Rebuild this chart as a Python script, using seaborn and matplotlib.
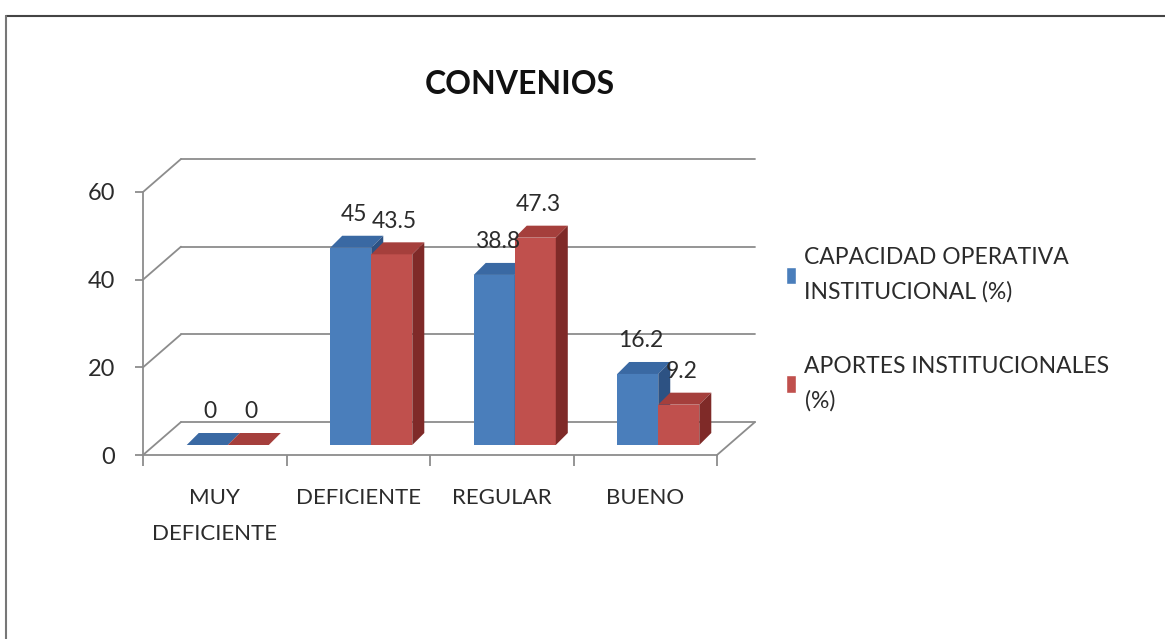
import numpy as np
import pandas as pd
import matplotlib
matplotlib.use('Agg')
import matplotlib.pyplot as plt
import seaborn as sns
from matplotlib.patches import Polygon, Patch
from matplotlib.lines import Line2D
from matplotlib.transforms import IdentityTransform, ScaledTranslation

categorias = ['MUY\nDEFICIENTE', 'DEFICIENTE', 'REGULAR', 'BUENO']
series = ['CAPACIDAD OPERATIVA\nINSTITUCIONAL (%)', 'APORTES INSTITUCIONALES\n(%)']
capacidad = [0, 45, 38.8, 16.2]
aportes = [0, 43.5, 47.3, 9.2]
etiquetas = ['0', '45', '38.8', '16.2', '0', '43.5', '47.3', '9.2']
y_ticks = [0, 20, 40, 60]

frente = ['#4A7EBB', '#C0504D']
arriba = ['#3A69A3', '#A53F3C']
lado = ['#2D5283', '#7F2A28']

df = pd.DataFrame({
    'cat': categorias * 2,
    'serie': [series[0]] * 4 + [series[1]] * 4,
    'valor': capacidad + aportes,
})

sns.set_style('white')
plt.rcParams['font.family'] = ['Lato', 'DejaVu Sans']
texto = '#2b2b2b'

fig = plt.figure(figsize=(11.65, 6.39), dpi=100)
W, H = 1165, 639
ax = fig.add_axes([143 / W, 184 / H, 574 / W, 263 / H])

sns.barplot(data=df, x='cat', y='valor', hue='serie', palette=frente,
            width=0.572, saturation=1, legend=False, ax=ax)
ax.set_xlim(-0.5, 3.5)
ax.set_ylim(0, 60)
ax.set_xlabel('')
ax.set_ylabel('')
ax.set_yticks(y_ticks)

# desplazamientos en pixeles (pantalla, y hacia arriba)
fondo = np.array([38.0, 33.0])
prof = np.array([12.0, 12.0])
despl = np.array([13.0, 10.0])

gris = '#8c8c8c'
for s in ['top', 'right']:
    ax.spines[s].set_visible(False)
for s in ['left', 'bottom']:
    ax.spines[s].set_color(gris)
    ax.spines[s].set_linewidth(1.3)

ax.tick_params(axis='y', direction='out', length=6, color=gris, width=1.3,
               labelsize=17, labelcolor=texto, pad=14, left=True)
ax.set_xticks(np.arange(-0.5, 4, 1), minor=True)
ax.tick_params(axis='x', which='minor', direction='out', length=8, color=gris, width=1.3, bottom=True)
ax.tick_params(axis='x', which='major', length=0, labelsize=16, labelcolor=texto, pad=24)
for t in ax.get_xticklabels():
    t.set_linespacing(1.95)
    t.set_verticalalignment('top')

# paredes del fondo
tr_fondo = ax.transData + ScaledTranslation(fondo[0] / 100, fondo[1] / 100, fig.dpi_scale_trans)
for yv in y_ticks:
    ax.plot([-0.5, 3.5], [yv, yv], color=gris, lw=1.3, transform=tr_fondo, clip_on=False, zorder=1)
    p0 = ax.transData.transform((-0.5, yv))
    ax.add_line(Line2D([p0[0], p0[0] + fondo[0]], [p0[1], p0[1] + fondo[1]], color=gris, lw=1.3,
                       transform=IdentityTransform(), clip_on=False, zorder=1))
p1 = ax.transData.transform((3.5, 0))
ax.add_line(Line2D([p1[0], p1[0] + fondo[0]], [p1[1], p1[1] + fondo[1]], color=gris, lw=1.3,
                   transform=IdentityTransform(), clip_on=False, zorder=1))

# barras 3D a partir de las barras de seaborn
barras = list(ax.patches)
tr_barra = ax.transData + ScaledTranslation(despl[0] / 100, despl[1] / 100, fig.dpi_scale_trans)
for i, p in enumerate(barras):
    k = i // 4
    c = i % 4
    z = 3 + c * 0.5 + k * 0.2
    x0, y0 = p.get_x(), p.get_y()
    x1, y1 = x0 + p.get_width(), y0 + p.get_height()
    a = ax.transData.transform((x0, y0)) + despl
    b = ax.transData.transform((x1, y1)) + despl
    p.set_transform(tr_barra)
    p.set_zorder(z)
    p.set_linewidth(0)
    p.set_clip_on(False)
    top = [(a[0], b[1]), (b[0], b[1]), (b[0] + prof[0], b[1] + prof[1]), (a[0] + prof[0], b[1] + prof[1])]
    side = [(b[0], a[1]), (b[0], b[1]), (b[0] + prof[0], b[1] + prof[1]), (b[0] + prof[0], a[1] + prof[1])]
    ax.add_patch(Polygon(top, closed=True, facecolor=arriba[k], edgecolor='none',
                         transform=IdentityTransform(), clip_on=False, zorder=z + 0.05))
    ax.add_patch(Polygon(side, closed=True, facecolor=lado[k], edgecolor='none',
                         transform=IdentityTransform(), clip_on=False, zorder=z + 0.05))
    ax.annotate(etiquetas[i], ((a[0] + b[0]) / 2 + 3, b[1] + prof[1]),
                xycoords=IdentityTransform(), xytext=(0, 21), textcoords='offset pixels',
                ha='center', va='center', fontsize=16.5, color=texto, zorder=10)

fig.text(520 / W, 1 - 84 / H, 'CONVENIOS', ha='center', va='center', fontsize=23,
         fontweight='bold', color='#111111')

handles = [Patch(facecolor=frente[0]), Patch(facecolor=frente[1])]
leg = fig.legend(handles, series, loc='upper left', bbox_to_anchor=(777 / W, 1 - 238 / H),
                 frameon=False, fontsize=16.5, handlelength=0.45, handleheight=0.8,
                 handletextpad=0.35, labelspacing=2.3, borderaxespad=0)
for t in leg.get_texts():
    t.set_linespacing(1.75)
    t.set_color(texto)

fig.add_artist(Line2D([6 / W, 1], [1 - 16 / H, 1 - 16 / H], transform=fig.transFigure, color='#444', lw=1.5))
fig.add_artist(Line2D([6 / W, 6 / W], [0, 1 - 16 / H], transform=fig.transFigure, color='#777', lw=1.5))

fig.savefig('out.png', dpi=100)
